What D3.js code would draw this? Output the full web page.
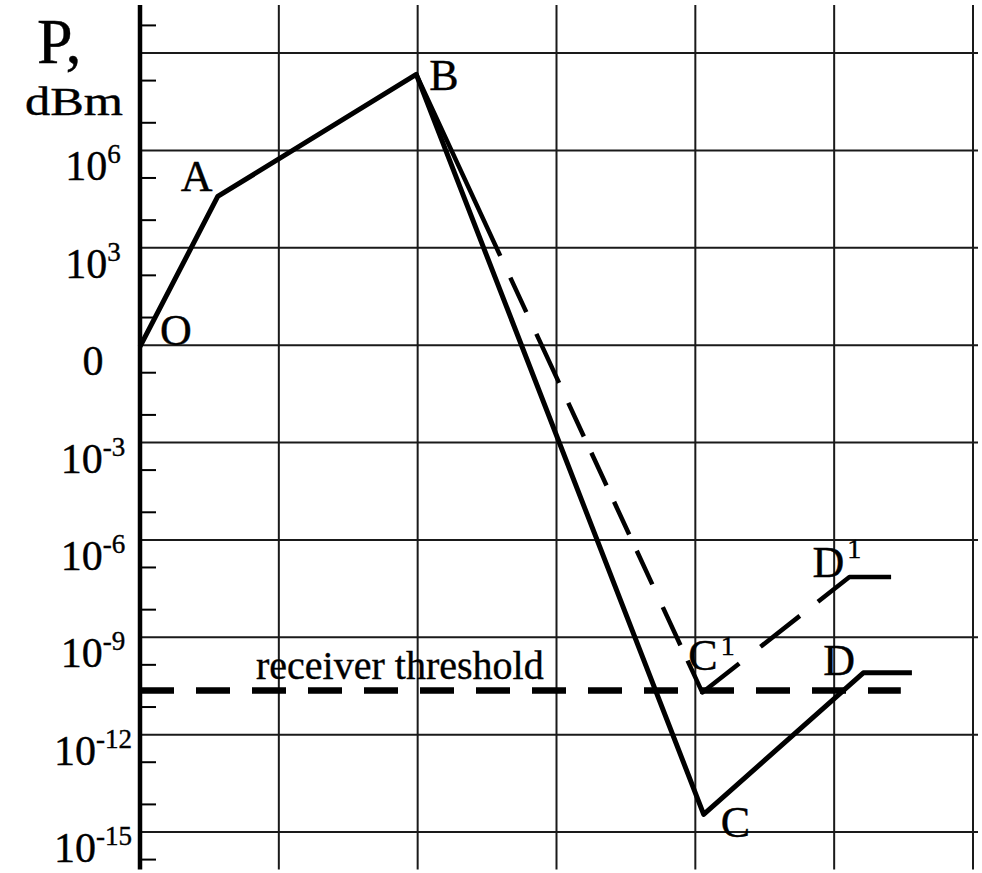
<!DOCTYPE html>
<html><head><meta charset="utf-8">
<script src="https://cdn.jsdelivr.net/npm/d3@7"></script>
<style>
html,body{margin:0;padding:0;background:#fff;}
svg{display:block;}
text{font-family:"Liberation Serif","Times New Roman",serif;fill:#000;stroke:#000;stroke-width:0.4px;}
</style>
</head><body>
<svg id="chart" width="982" height="873"></svg>
<script>
// ---- data ----
const gridX = [1, 2, 3, 4, 5, 6];
const gridPowers = [1e9, 1e6, 1e3, 1, 1e-3, 1e-6, 1e-9, 1e-12, 1e-15];
const tickValues = [1e6, 1e3, 1, 1e-3, 1e-6, 1e-9, 1e-12, 1e-15];
const tickLabels = ["10^6", "10^3", "0", "10^-3", "10^-6", "10^-9", "10^-12", "10^-15"];
const axisExtent = [7e-17, 3e10];
const minorOffsets = [0.85, 2.15]; // decades below each major line

const solidX = [0, 0.56, 1.99, 4.06, 5.21, 5.56];
const solidP = [0.9, 3.8e4, 2.2e8, 3.5e-15, 8e-11, 8e-11];
const solidNames = ["O", "A", "B", "C", "D", ""];

const dashedX = [1.99, 4.05, 5.11, 5.41];
const dashedP = [2.2e8, 2.0e-11, 7.2e-8, 7.2e-8];
const dashedNames = ["", "C^1", "D^1", ""];

const thresholdP = 2.3e-11;
const thresholdX = [0, 5.48];
const thresholdLabel = "receiver threshold";
const axisTitle = ["P,", "dBm"];

// ---- layout / style ----
const svg = d3.select("#chart");
const x = d3.scaleLinear().domain([0, 6]).range([140, 973]);
const y = d3.scaleLog().domain([1e-15, 1e9]).range([832, 53]);
const gridColor = "#1a1a1a";

// grid
svg.append("g").selectAll("line").data(gridPowers).join("line")
  .attr("x1", x(0)).attr("x2", x(6) + 5)
  .attr("y1", d => y(d)).attr("y2", d => y(d))
  .attr("stroke", gridColor).attr("stroke-width", 2);
svg.append("g").selectAll("line").data(gridX).join("line")
  .attr("x1", d => x(d)).attr("x2", d => x(d))
  .attr("y1", y(axisExtent[1])).attr("y2", y(axisExtent[0]))
  .attr("stroke", gridColor).attr("stroke-width", 2);

// y axis
svg.append("line").attr("x1", x(0)).attr("x2", x(0))
  .attr("y1", y(axisExtent[1])).attr("y2", y(axisExtent[0]))
  .attr("stroke", "#000").attr("stroke-width", 4.5);

// minor ticks
const majors = [12, 9, 6, 3, 0, -3, -6, -9, -12, -15];
const lo = Math.log10(axisExtent[0]), hi = Math.log10(axisExtent[1]);
const minor = [];
majors.forEach(k => minorOffsets.forEach(o => { const e = k - o; if (e > lo && e < hi) minor.push(Math.pow(10, e)); }));
svg.append("g").selectAll("line").data(minor).join("line")
  .attr("x1", x(0)).attr("x2", x(0) + 16)
  .attr("y1", d => y(d)).attr("y2", d => y(d))
  .attr("stroke", "#000").attr("stroke-width", 2);

// tick labels
tickValues.forEach((v, i) => {
  const [base, sup] = tickLabels[i].split("^");
  const t = svg.append("text").attr("x", 93).attr("y", y(v) + 30)
    .attr("text-anchor", "middle").attr("font-size", 42);
  t.append("tspan").text(base);
  if (sup) t.append("tspan").attr("font-size", 27).attr("dy", -17).text(sup);
});

// axis title
svg.append("text").attr("x", 37).attr("y", 63).attr("font-size", 64).text(axisTitle[0]);
svg.append("text").attr("x", 25).attr("y", 115).attr("font-size", 39)
  .attr("textLength", 98).attr("lengthAdjust", "spacingAndGlyphs").text(axisTitle[1]);

// threshold
svg.append("line").attr("x1", x(thresholdX[0])).attr("x2", x(thresholdX[1]))
  .attr("y1", y(thresholdP)).attr("y2", y(thresholdP))
  .attr("stroke", "#000").attr("stroke-width", 6.5).attr("stroke-dasharray", "34,22");
svg.append("text").attr("x", 256).attr("y", y(thresholdP) - 11).attr("font-size", 40).text(thresholdLabel);

const line = d3.line().x(d => x(d[0])).y(d => y(d[1]));

// dashed series
svg.append("path").datum(dashedX.map((v, i) => [v, dashedP[i]]))
  .attr("d", line).attr("fill", "none").attr("stroke", "#000").attr("stroke-width", 4.5)
  .attr("stroke-linejoin", "round")
  .attr("stroke-dasharray", "200,24,38,24,54,22,37,18,36,18,36,18,37,25,42,17,82,27,50,23,120");

// solid series
svg.append("path").datum(solidX.map((v, i) => [v, solidP[i]]))
  .attr("d", line).attr("fill", "none").attr("stroke", "#000").attr("stroke-width", 5)
  .attr("stroke-linejoin", "round");

// point labels
const labelOffsets = { "O": [20, -2], "A": [-37, -5], "B": [13, 16], "C": [17, 23], "D": [-40, 2], "C^1": [-14, -22], "D^1": [-37, 0] };
function addLabel(name, px, py) {
  if (!name) return;
  const off = labelOffsets[name];
  const [base, sup] = name.split("^");
  const t = svg.append("text").attr("x", px + off[0]).attr("y", py + off[1]).attr("font-size", 44);
  t.append("tspan").text(base);
  if (sup) t.append("tspan").attr("font-size", 28).attr("dy", name === "D^1" ? -19 : -15).attr("dx", 3).text(sup);
}
solidNames.forEach((n, i) => addLabel(n, x(solidX[i]), y(solidP[i])));
dashedNames.forEach((n, i) => addLabel(n, x(dashedX[i]), y(dashedP[i])));
</script>
</body></html>
